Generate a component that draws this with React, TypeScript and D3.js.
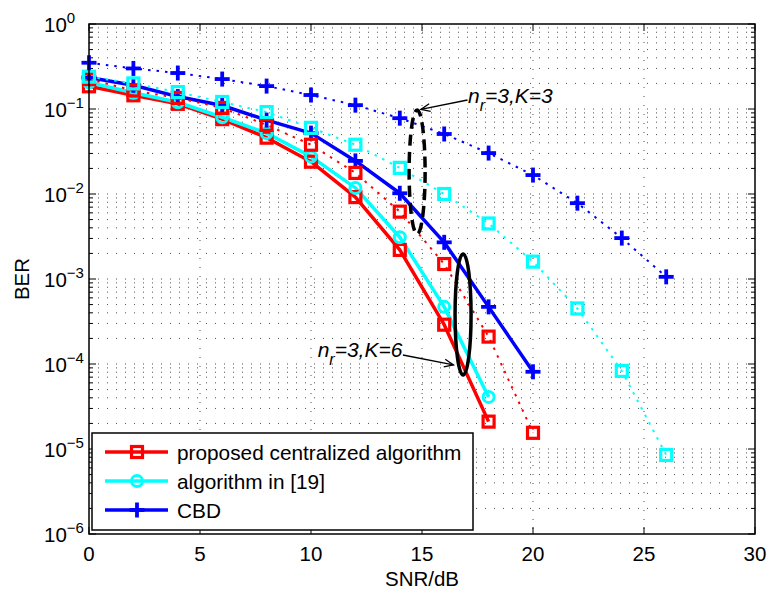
import React from 'react';
import * as d3 from 'd3';

// ---- data ----
const snr = [0, 2, 4, 6, 8, 10, 12, 14, 16, 18, 20, 22, 24, 26];
const propK6 = [0.185, 0.145, 0.115, 0.076, 0.046, 0.024, 0.0092, 0.0022, 2.9e-4, 2.1e-5];
const ref19K6 = [0.205, 0.155, 0.12, 0.08, 0.052, 0.0275, 0.0118, 0.0031, 4.7e-4, 4.1e-5];
const cbdK6 = [0.235, 0.19, 0.14, 0.11, 0.074, 0.052, 0.0245, 0.0102, 0.0027, 4.7e-4, 8.1e-5];
const propK3 = [0.225, 0.165, 0.135, 0.103, 0.065, 0.038, 0.0177, 0.0062, 0.0015, 2.1e-4, 1.55e-5];
const ref19K3 = [0.24, 0.2, 0.158, 0.121, 0.092, 0.06, 0.038, 0.0203, 0.01, 0.0045, 0.0016, 4.5e-4, 8.3e-5, 8.5e-6];
const cbdK3 = [0.35, 0.3, 0.265, 0.225, 0.186, 0.146, 0.111, 0.078, 0.0508, 0.0303, 0.0167, 0.0078, 0.00303, 0.00106];

const xTicks = [0, 5, 10, 15, 20, 25, 30];
const yExps = [0, -1, -2, -3, -4, -5, -6];
const legendLabels = ['proposed centralized algorithm', 'algorithm in [19]', 'CBD'];

const W = 767, H = 589;
const L = 89, T = 24, R = 755, B = 534;
const FONT = 'Liberation Sans, Arial, Helvetica, sans-serif';

type Series = { vals: number[]; color: string; marker: 'square' | 'circle' | 'plus'; dotted: boolean };

const series: Series[] = [
  { vals: propK6, color: '#ff0000', marker: 'square', dotted: false },
  { vals: ref19K6, color: '#00ffff', marker: 'circle', dotted: false },
  { vals: cbdK6, color: '#0000ff', marker: 'plus', dotted: false },
  { vals: propK3, color: '#ff0000', marker: 'square', dotted: true },
  { vals: ref19K3, color: '#00ffff', marker: 'square', dotted: true },
  { vals: cbdK3, color: '#0000ff', marker: 'plus', dotted: true },
];

function Marker({ x, y, kind, color }: { x: number; y: number; kind: string; color: string }) {
  if (kind === 'square') {
    return <rect x={x - 5.5} y={y - 5.5} width={11} height={11} fill="none" stroke={color} strokeWidth={3.2} />;
  }
  if (kind === 'circle') {
    return <circle cx={x} cy={y} r={5.5} fill="none" stroke={color} strokeWidth={3} />;
  }
  return (
    <g stroke={color} strokeWidth={3.8}>
      <line x1={x - 7.5} y1={y} x2={x + 7.5} y2={y} />
      <line x1={x} y1={y - 7.5} x2={x} y2={y + 7.5} />
    </g>
  );
}

export default function App() {
  const x = d3.scaleLinear().domain([0, 30]).range([L, R]);
  const y = d3.scaleLog().domain([1e-6, 1]).range([B, T]);

  const minorY: number[] = [];
  for (let e = -6; e < 0; e++) {
    for (let m = 2; m <= 9; m++) minorY.push(m * Math.pow(10, e));
  }
  const majorY = yExps.map((e) => Math.pow(10, e));

  const line = d3
    .line<[number, number]>()
    .x((d) => x(d[0]))
    .y((d) => y(d[1]));

  const grid = '1,8';

  // annotations (data coords)
  const e3 = { cx: 14.78, top: Math.pow(10, -1.012), bot: Math.pow(10, -2.47) };
  const e6 = { cx: 16.85, top: Math.pow(10, -2.706), bot: Math.pow(10, -4.13) };
  const ell = (e: { cx: number; top: number; bot: number }) => {
    const cy = (y(e.top) + y(e.bot)) / 2;
    const ry = (y(e.bot) - y(e.top)) / 2;
    return { cx: x(e.cx), cy, rx: 8, ry };
  };
  const el3 = ell(e3);
  const el6 = ell(e6);

  const arrow = (x1: number, y1: number, x2: number, y2: number) => {
    const ang = Math.atan2(y2 - y1, x2 - x1);
    const len = 10, spread = 0.4;
    const a1 = [x2 - len * Math.cos(ang - spread), y2 - len * Math.sin(ang - spread)];
    const a2 = [x2 - len * Math.cos(ang + spread), y2 - len * Math.sin(ang + spread)];
    return (
      <g stroke="#000" strokeWidth={1.3} fill="none">
        <line x1={x1} y1={y1} x2={x2} y2={y2} />
        <polyline points={`${a1[0]},${a1[1]} ${x2},${y2} ${a2[0]},${a2[1]}`} />
      </g>
    );
  };

  return (
    <svg width={W} height={H} style={{ position: 'absolute', left: 0, top: 0, background: '#fff' }} fontFamily={FONT}>
      <rect x={0} y={0} width={W} height={H} fill="#fff" />
      {/* grid */}
      <g stroke="#000" strokeWidth={0.7} strokeDasharray={grid}>
        {[...minorY, ...majorY.slice(1, -1)].map((v, i) => (
          <line key={'gy' + i} x1={L} x2={R} y1={y(v)} y2={y(v)} />
        ))}
        {xTicks.slice(1, -1).map((t) => (
          <line key={'gx' + t} x1={x(t)} x2={x(t)} y1={T} y2={B} />
        ))}
      </g>
      {/* ticks */}
      <g stroke="#000" strokeWidth={1}>
        {majorY.map((v, i) => (
          <g key={'my' + i}>
            <line x1={L} x2={L + 7} y1={y(v)} y2={y(v)} />
            <line x1={R} x2={R - 7} y1={y(v)} y2={y(v)} />
          </g>
        ))}
        {minorY.map((v, i) => (
          <g key={'ny' + i}>
            <line x1={L} x2={L + 4} y1={y(v)} y2={y(v)} />
            <line x1={R} x2={R - 4} y1={y(v)} y2={y(v)} />
          </g>
        ))}
        {xTicks.map((t) => (
          <g key={'tx' + t}>
            <line x1={x(t)} x2={x(t)} y1={B} y2={B - 7} />
            <line x1={x(t)} x2={x(t)} y1={T} y2={T + 7} />
          </g>
        ))}
      </g>
      {/* series lines */}
      {series.map((s, i) => (
        <path
          key={'l' + i}
          d={line(s.vals.map((v, j) => [snr[j], v] as [number, number])) || ''}
          fill="none"
          stroke={s.color}
          strokeWidth={s.dotted ? 2 : 3.5}
          strokeDasharray={s.dotted ? '2.5,6' : undefined}
          strokeLinejoin="round"
        />
      ))}
      {series.map((s, i) => (
        <g key={'m' + i}>
          {s.vals.map((v, j) => (
            <Marker key={j} x={x(snr[j])} y={y(v)} kind={s.marker} color={s.color} />
          ))}
        </g>
      ))}
      {/* annotations */}
      <ellipse cx={el3.cx} cy={el3.cy} rx={el3.rx} ry={el3.ry} fill="none" stroke="#000" strokeWidth={3.5} strokeDasharray="11,6" />
      <ellipse cx={el6.cx} cy={el6.cy} rx={el6.rx} ry={el6.ry} fill="none" stroke="#000" strokeWidth={3.5} />
      {arrow(x(17.05), y(Math.pow(10, -0.894)), x(14.95), y(Math.pow(10, -1.005)))}
      {arrow(x(14.14), y(Math.pow(10, -3.894)), x(16.42), y(Math.pow(10, -4.01)))}
      <text x={x(17.07)} y={y(Math.pow(10, -0.93))} fontSize={21} fontStyle="italic">
        n<tspan fontSize={16} dy={8}>r</tspan>
        <tspan dy={-8}>=3,K=3</tspan>
      </text>
      <text x={x(10.3)} y={y(Math.pow(10, -3.92))} fontSize={21} fontStyle="italic">
        n<tspan fontSize={16} dy={8}>r</tspan>
        <tspan dy={-8}>=3,K=6</tspan>
      </text>
      {/* axes box */}
      <rect x={L} y={T} width={R - L} height={B - T} fill="none" stroke="#000" strokeWidth={1.5} />
      {/* tick labels */}
      {xTicks.map((t) => (
        <text key={'xl' + t} x={x(t)} y={561} fontSize={20.5} textAnchor="middle">
          {t}
        </text>
      ))}
      {yExps.map((e) => (
        <text key={'yl' + e} x={44} y={y(Math.pow(10, e)) + 8} fontSize={20.5}>
          10<tspan fontSize={15} dy={-9}>{e === 0 ? '0' : '\u2212' + -e}</tspan>
        </text>
      ))}
      <text x={(L + R) / 2} y={586} fontSize={20.5} textAnchor="middle">SNR/dB</text>
      <text transform={`translate(29, ${(T + B) / 2}) rotate(-90)`} fontSize={20.5} textAnchor="middle">BER</text>
      {/* legend */}
      <rect x={92} y={433} width={381} height={97} fill="#fff" stroke="#000" strokeWidth={1.5} />
      {legendLabels.map((lab, i) => {
        const s = series[i];
        const cy = 452 + i * 29;
        return (
          <g key={'lg' + i}>
            <line x1={105} x2={168} y1={cy} y2={cy} stroke={s.color} strokeWidth={3.5} />
            <Marker x={137} y={cy} kind={s.marker} color={s.color} />
            <text x={177} y={cy + 7.5} fontSize={20.8}>{lab}</text>
          </g>
        );
      })}
    </svg>
  );
}
